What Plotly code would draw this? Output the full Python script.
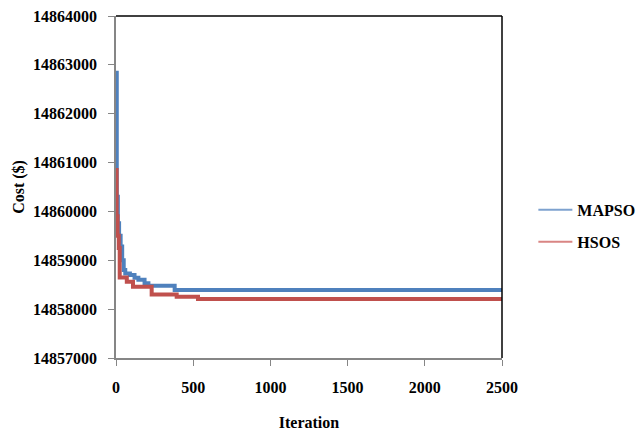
import plotly.graph_objects as go

mapso_iter = [0, 5, 12, 20, 30, 40, 50, 60, 90, 120, 145, 185, 210, 380, 2500]
mapso_cost = [14862840, 14860300, 14859760, 14859500, 14859280, 14859000, 14858800,
              14858730, 14858700, 14858640, 14858600, 14858530, 14858480, 14858390, 14858390]

hsos_iter = [0, 4, 10, 18, 24, 70, 110, 231, 393, 531, 2500]
hsos_cost = [14860850, 14859900, 14859500, 14859250, 14858650, 14858560, 14858460,
             14858300, 14858255, 14858210, 14858210]

x_ticks = [0, 500, 1000, 1500, 2000, 2500]
y_ticks = [14857000, 14858000, 14859000, 14860000, 14861000, 14862000, 14863000, 14864000]

BLUE = "#4F81BD"
RED = "#C0504D"
SERIF = "Liberation Serif"
bold = dict(family=SERIF, size=16, color="black", weight="bold")

fig = go.Figure()
fig.add_trace(go.Scatter(x=mapso_iter, y=mapso_cost, mode="lines", line=dict(color=BLUE, width=4, shape="hv"),
                         showlegend=False))
fig.add_trace(go.Scatter(x=hsos_iter, y=hsos_cost, mode="lines", line=dict(color=RED, width=4, shape="hv"),
                         showlegend=False))
# legend entries (thin samples as in the reference)
fig.add_trace(go.Scatter(x=[None], y=[None], mode="lines", name="MAPSO",
                         line=dict(color="#7EA2CF", width=2), legend="legend"))
fig.add_trace(go.Scatter(x=[None], y=[None], mode="lines", name="HSOS",
                         line=dict(color="#D98583", width=2), legend="legend2"))

fig.update_layout(
    width=638, height=431,
    margin=dict(l=116, r=136, t=16, b=73),
    paper_bgcolor="white", plot_bgcolor="white",
    legend=dict(xref="container", yref="container", x=0.836, y=0.513, xanchor="left", yanchor="middle",
                font=bold, bgcolor="rgba(0,0,0,0)", itemwidth=34),
    legend2=dict(xref="container", yref="container", x=0.836, y=0.439, xanchor="left", yanchor="middle",
                 font=bold, bgcolor="rgba(0,0,0,0)", itemwidth=34),
    xaxis=dict(range=[0, 2500], tickvals=x_ticks, ticks="outside", ticklen=6, tickcolor="#868686",
               showline=True, linecolor="#868686", linewidth=1.5, showgrid=False, zeroline=False,
               tickfont=bold, ticklabelstandoff=8, automargin=False, ticklabeloverflow="allow",
               title=dict(text="Iteration", font=bold, standoff=23)),
    yaxis=dict(range=[14857000, 14864000], tickvals=y_ticks, ticks="outside", ticklen=6, tickcolor="#868686",
               showline=True, linecolor="#868686", linewidth=1.5, showgrid=False, zeroline=False,
               tickfont=bold, ticklabelstandoff=8, tickformat="d", automargin=False,
               ticklabeloverflow="allow",
               title=dict(text="Cost ($)", font=bold, standoff=4)),
    shapes=[
        dict(type="line", xref="paper", yref="paper", x0=0, x1=1, y0=1, y1=1,
             line=dict(color="black", width=1.5)),
        dict(type="line", xref="paper", yref="paper", x0=1, x1=1, y0=0, y1=1,
             line=dict(color="black", width=1.5)),
    ],
)

# remove the default 8px page margin so the figure fills the window exactly
fig.write_html("out.html", config={"displayModeBar": False},
               post_script="document.body.style.margin='0px';")
